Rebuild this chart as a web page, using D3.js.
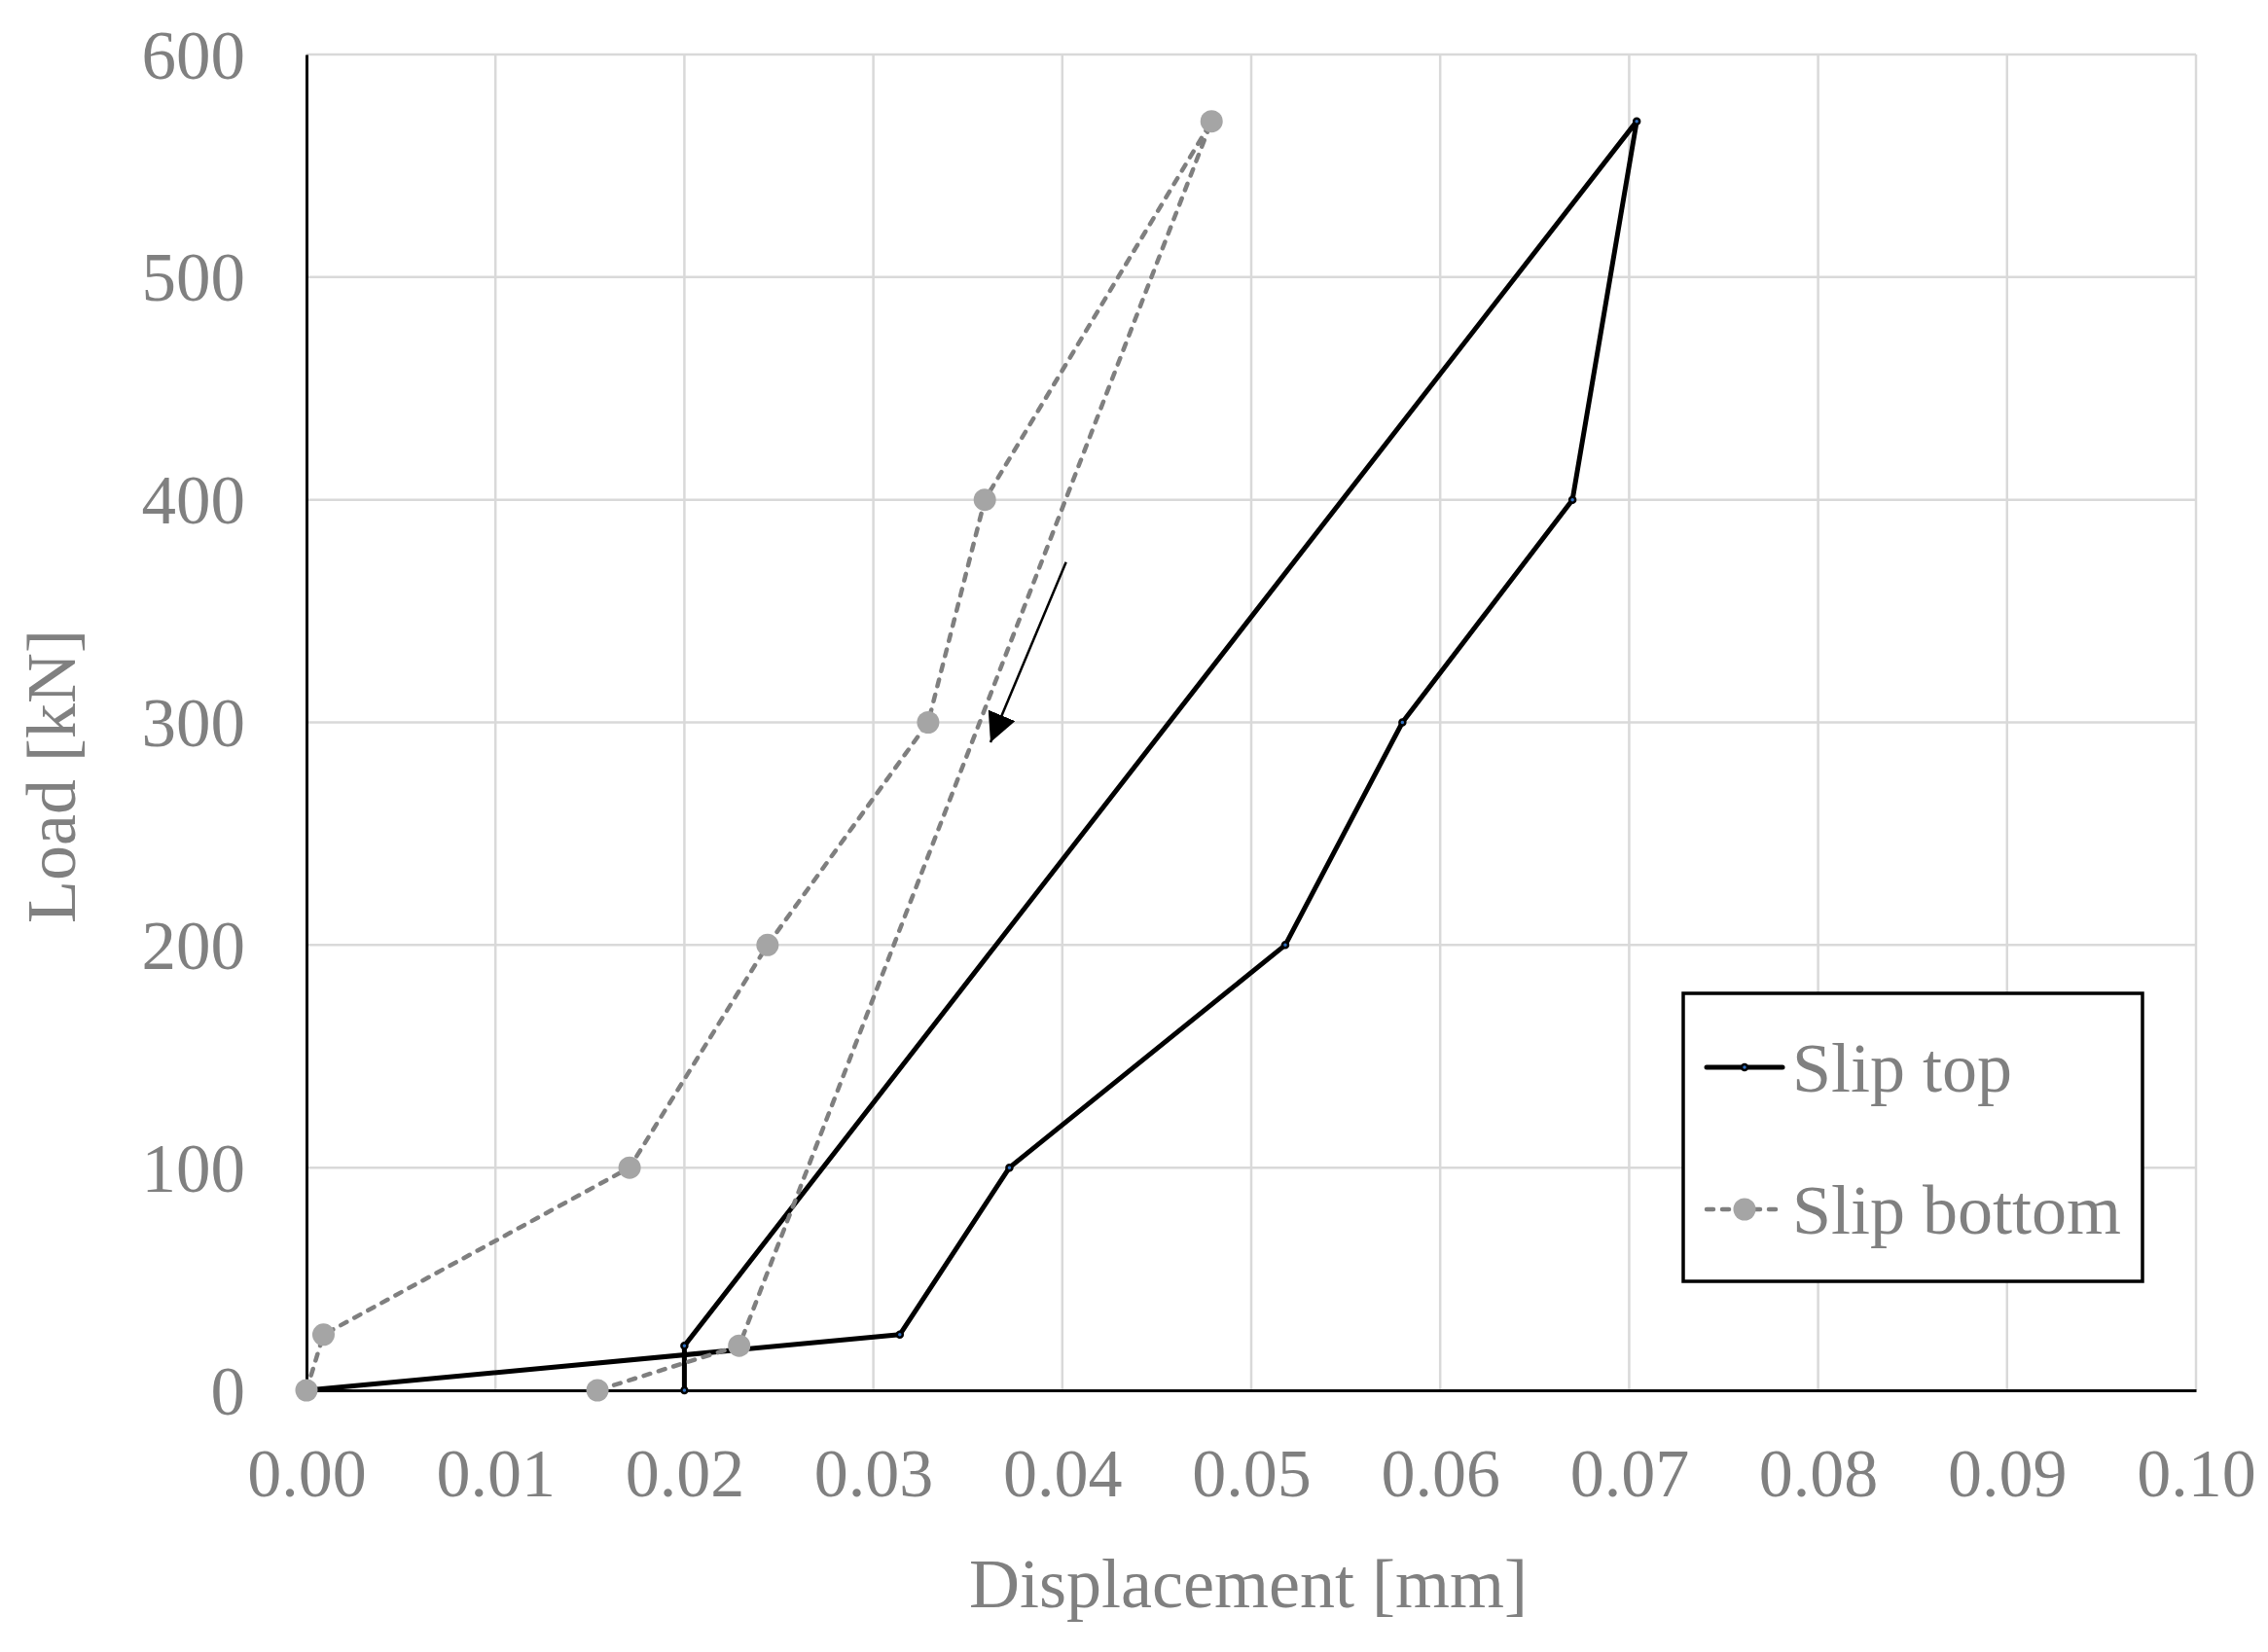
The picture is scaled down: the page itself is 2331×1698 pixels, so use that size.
<!DOCTYPE html>
<html>
<head>
<meta charset="utf-8">
<script src="https://cdnjs.cloudflare.com/ajax/libs/d3/7.8.5/d3.min.js"></script>
<style>
body { margin: 0; background: #fff; overflow: hidden; }
svg { display: block; }
text { font-family: "Liberation Serif", "Times New Roman", serif; fill: #808080; }
</style>
</head>
<body>
<script>
// values
var xTicks = [0, 0.01, 0.02, 0.03, 0.04, 0.05, 0.06, 0.07, 0.08, 0.09, 0.10];
var yTicks = [0, 100, 200, 300, 400, 500, 600];

var topDisp = [0, 0.0314, 0.0372, 0.0518, 0.0580, 0.0670, 0.0704, 0.0200, 0.0200];
var topLoad = [0, 25, 100, 200, 300, 400, 570, 20, 0];

var bottomDisp = [0, 0.0009, 0.0171, 0.0244, 0.0329, 0.0359, 0.0479, 0.0229, 0.0154];
var bottomLoad = [0, 25, 100, 200, 300, 400, 570, 20, 0];

var seriesNames = ["Slip top", "Slip bottom"];

// unloading arrow, start and tip
var arrowDisp = [0.0402, 0.0362];
var arrowLoad = [372, 291];

var margin = {top: 56, right: 74, bottom: 269, left: 315},
width = 2331 - margin.left - margin.right,
height = 1698 - margin.top - margin.bottom;

var x = d3.scaleLinear().domain([0, 0.10]).range([0, width]);
var y = d3.scaleLinear().domain([0, 600]).range([height, 0]);

var root = d3.select("body")
.append("svg")
.attr("width", 2331)
.attr("height", 1698)
.style("background", "#fff");

var svg = root.append("g")
.attr("transform", "translate(" + margin.left + "," + margin.top + ")");

// gridlines
svg.append("g")
.selectAll("line")
.data(xTicks.slice(1))
.enter().append("line")
.attr("x1", function(d){ return x(d); })
.attr("x2", function(d){ return x(d); })
.attr("y1", 0)
.attr("y2", height)
.attr("stroke", "#d9d9d9")
.attr("stroke-width", 2.5);

svg.append("g")
.selectAll("line")
.data(yTicks.slice(1))
.enter().append("line")
.attr("x1", 0)
.attr("x2", width)
.attr("y1", function(d){ return y(d); })
.attr("y2", function(d){ return y(d); })
.attr("stroke", "#d9d9d9")
.attr("stroke-width", 2.5);

// axes
var xAxis = d3.axisBottom(x).tickValues(xTicks).tickFormat(d3.format(".2f")).tickSize(0).tickPadding(109);
var yAxis = d3.axisLeft(y).tickValues(yTicks).tickFormat(d3.format("d")).tickSize(0).tickPadding(63);

var gx = svg.append("g")
.attr("transform", "translate(0," + height + ")")
.call(xAxis);
gx.select(".domain").attr("stroke", "#000").attr("stroke-width", 3);
gx.selectAll("text")
.style("font-size", "70px")
.attr("fill", "#808080")
.attr("dy", "0");

var gy = svg.append("g").call(yAxis);
gy.select(".domain").attr("stroke", "#000").attr("stroke-width", 3);
gy.selectAll("text")
.style("font-size", "71px")
.attr("fill", "#808080")
.attr("dy", "0.34em");

// axis titles, placed on the whole svg
root.append("text")
.attr("x", margin.left + width / 2 - 3)
.attr("y", 1652)
.attr("text-anchor", "middle")
.style("font-size", "72px")
.text("Displacement [mm]");

root.append("text")
.attr("transform", "translate(77,798) rotate(-90)")
.attr("text-anchor", "middle")
.style("font-size", "72px")
.text("Load [kN]");

var line = d3.line()
.x(function(d){ return x(d[0]); })
.y(function(d){ return y(d[1]); });

var topPts = topDisp.map(function(d, i){ return [d, topLoad[i]]; });
var bottomPts = bottomDisp.map(function(d, i){ return [d, bottomLoad[i]]; });

// slip top
svg.append("path")
.datum(topPts)
.attr("d", line)
.attr("fill", "none")
.attr("stroke", "#000")
.attr("stroke-width", 5)
.attr("stroke-linejoin", "round");

svg.append("g")
.selectAll("circle")
.data(topPts)
.enter().append("circle")
.attr("cx", function(d){ return x(d[0]); })
.attr("cy", function(d){ return y(d[1]); })
.attr("r", 3)
.attr("fill", "#2f6fc0")
.attr("stroke", "#000")
.attr("stroke-width", 2.5);

// slip bottom
svg.append("path")
.datum(bottomPts)
.attr("d", line)
.attr("fill", "none")
.attr("stroke", "#7f7f7f")
.attr("stroke-width", 4.5)
.attr("stroke-linecap", "round")
.attr("stroke-dasharray", "7,9");

svg.append("g")
.selectAll("circle")
.data(bottomPts)
.enter().append("circle")
.attr("cx", function(d){ return x(d[0]); })
.attr("cy", function(d){ return y(d[1]); })
.attr("r", 11.5)
.attr("fill", "#a5a5a5");

// arrow
svg.append("defs").append("marker")
.attr("id", "head")
.attr("markerUnits", "userSpaceOnUse")
.attr("viewBox", "0 0 30 30")
.attr("refX", 30)
.attr("refY", 15)
.attr("markerWidth", 30)
.attr("markerHeight", 30)
.attr("orient", "auto")
.append("path")
.attr("d", "M0,0L30,15L0,30Z")
.attr("fill", "#000");

svg.append("line")
.attr("x1", x(arrowDisp[0]))
.attr("y1", y(arrowLoad[0]))
.attr("x2", x(arrowDisp[1]))
.attr("y2", y(arrowLoad[1]))
.attr("stroke", "#000")
.attr("stroke-width", 2.5)
.attr("marker-end", "url(#head)");

// legend
var legend = root.append("g")
.attr("transform", "translate(1730,1021)");

legend.append("rect")
.attr("width", 472)
.attr("height", 296)
.attr("fill", "#fff")
.attr("stroke", "#000")
.attr("stroke-width", 3.5);

var item = legend.selectAll(".item")
.data(seriesNames)
.enter().append("g")
.attr("class", "item")
.attr("transform", function(d, i){ return "translate(0," + (76 + i * 146) + ")"; });

item.append("line")
.attr("x1", 24)
.attr("x2", 102)
.attr("stroke", function(d, i){ return i == 0 ? "#000" : "#7f7f7f"; })
.attr("stroke-width", function(d, i){ return i == 0 ? 5 : 4.5; })
.attr("stroke-linecap", "round")
.attr("stroke-dasharray", function(d, i){ return i == 0 ? null : "7,9"; });

item.append("circle")
.attr("cx", 63)
.attr("r", function(d, i){ return i == 0 ? 3 : 11.5; })
.attr("fill", function(d, i){ return i == 0 ? "#2f6fc0" : "#a5a5a5"; })
.attr("stroke", function(d, i){ return i == 0 ? "#000" : "none"; })
.attr("stroke-width", 2.5);

item.append("text")
.attr("x", 112)
.attr("y", 25)
.style("font-size", "72px")
.text(function(d){ return d; });
</script>
</body>
</html>
